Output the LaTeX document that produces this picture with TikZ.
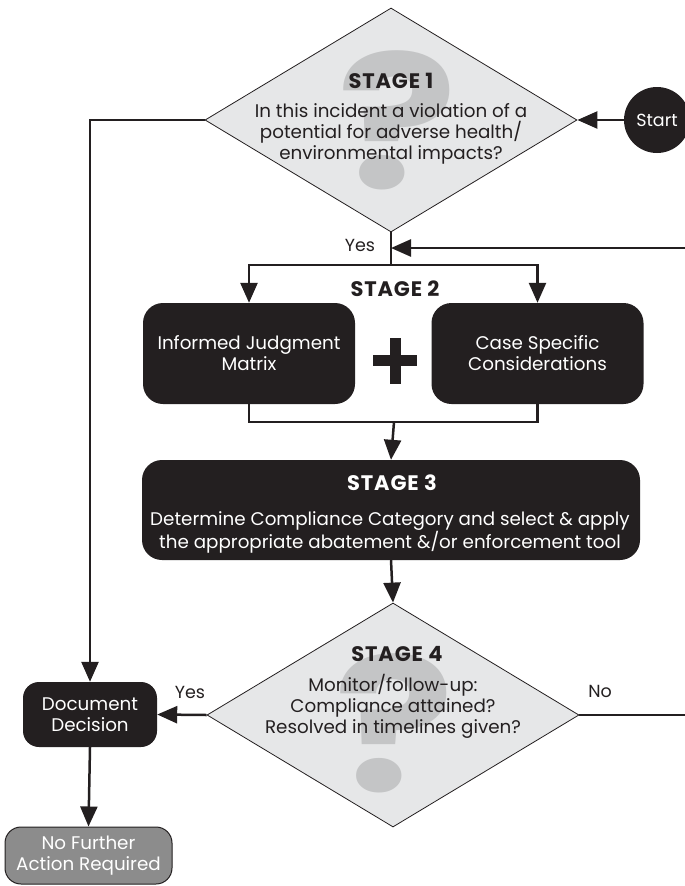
\documentclass[tikz,border=0pt]{standalone}
\usepackage{fontspec}
\setmainfont{Poppins}
\newfontfamily\ttlfont[LetterSpace=4]{Poppins}
\usetikzlibrary{shapes.geometric,arrows.meta,calc}
\definecolor{ink}{HTML}{231F20}
\definecolor{dfill}{HTML}{E6E7E8}
\definecolor{qmark}{HTML}{C4C5C6}
\definecolor{nfgray}{HTML}{8C8C8C}
\begin{document}
\begin{tikzpicture}[x=1pt,y=-1pt,
  conn/.style={line width=2.5pt, draw=ink},
  arr/.style={conn,-{Triangle[length=20pt,width=17pt]}},
  dia/.style={diamond, draw=ink, line width=0.8pt, fill=dfill, minimum width=372pt, minimum height=224pt, inner sep=0pt},
  blk/.style={rectangle, rounded corners=20pt, fill=ink, text=white, align=center, inner sep=0pt, font=\fontsize{18.3}{21}\selectfont},
  body/.style={align=center, text=ink, inner sep=0pt, font=\fontsize{18.3}{21}\selectfont},
  ttl/.style={text=ink, inner sep=0pt, font=\fontsize{21}{22}\ttlfont\bfseries},
  lab/.style={text=ink, inner sep=0pt, font=\fontsize{17.5}{18}\selectfont},
  qm/.style={text=qmark, inner sep=0pt, xscale=1.2, transform shape, font=\fontsize{186}{186}\selectfont\bfseries}
]
\useasboundingbox (0,0) rectangle (685,886);
% Stage 1
\node[dia] (d1) at (391,120) {};
\node[qm] (q1) at (398,120) {?};
\node[ttl] (t1) at (391,81) {STAGE 1};
\node[body] (x1) at (391,134) {In this incident a violation of a\\potential for adverse health/\\environmental impacts?};
% Start
\node[circle, fill=ink, minimum size=66pt, inner sep=0pt, text=white, font=\fontsize{17.5}{18}\selectfont] (start) at (657,120) {Start};
% Stage 2
\node[ttl] (t2) at (395,289) {STAGE 2};
\node[blk, minimum width=212pt, minimum height=101pt] (b1) at (249,353.5) {Informed Judgment\\Matrix};
\node[blk, minimum width=212pt, minimum height=101pt] (b2) at (537.5,353.5) {Case Specific\\Considerations};
\fill[ink] (373,355) rectangle (417,366);
\fill[ink] (389.5,338) rectangle (400.5,384);
% Stage 3
\node[blk, minimum width=498pt, minimum height=100pt] (s3) at (391,510) {};
\node[ttl, text=white] (t3) at (392,483) {STAGE 3};
\node[body, text=white] (x3) at (390,532) {Determine Compliance Category and select \& apply\\the appropriate abatement \&/or enforcement tool};
% Stage 4
\node[dia] (d4) at (393,715) {};
\node[qm] (q4) at (395,723) {?};
\node[ttl] (t4) at (397,654) {STAGE 4};
\node[body] (x4) at (393,706.5) {Monitor/follow-up:\\Compliance attained?\\Resolved in timelines given?};
% Document decision and end
\node[blk, rounded corners=16pt, minimum width=134pt, minimum height=65pt] (dd) at (90,714.5) {Document\\Decision};
\node[blk, rounded corners=16pt, fill=nfgray, draw=ink, line width=1pt, minimum width=167pt, minimum height=57pt] (nf) at (88.5,855.5) {No Further\\Action Required};
% labels
\node[lab] (y1) at (360,245) {Yes};
\node[lab] (y4) at (190,692) {Yes};
\node[lab] (n4) at (600,691) {No};
% connectors
\coordinate (J) at (391,248);
\coordinate (sp) at (391,265);
\coordinate (m) at (394,422);
\draw[arr] (start) -- (d1.east);
\draw[arr] (d1.west) -| (dd.north);
\draw[conn] (d1.south) -- (sp);
\draw[arr] (sp) -| (b1.north);
\draw[arr] (sp) -| (b2.north);
\draw[conn] (b1.south) |- (m);
\draw[conn] (b2.south) |- (m);
\draw[arr] (m) -- (s3.north);
\draw[arr] (s3.south) -- (d4.north);
\draw[arr] (d4.west) -- (dd.east);
\draw[arr] (dd.south) -- (nf.north);
\draw[arr] (d4.east) -- ++(130,0) |- (J);
\end{tikzpicture}
\end{document}
